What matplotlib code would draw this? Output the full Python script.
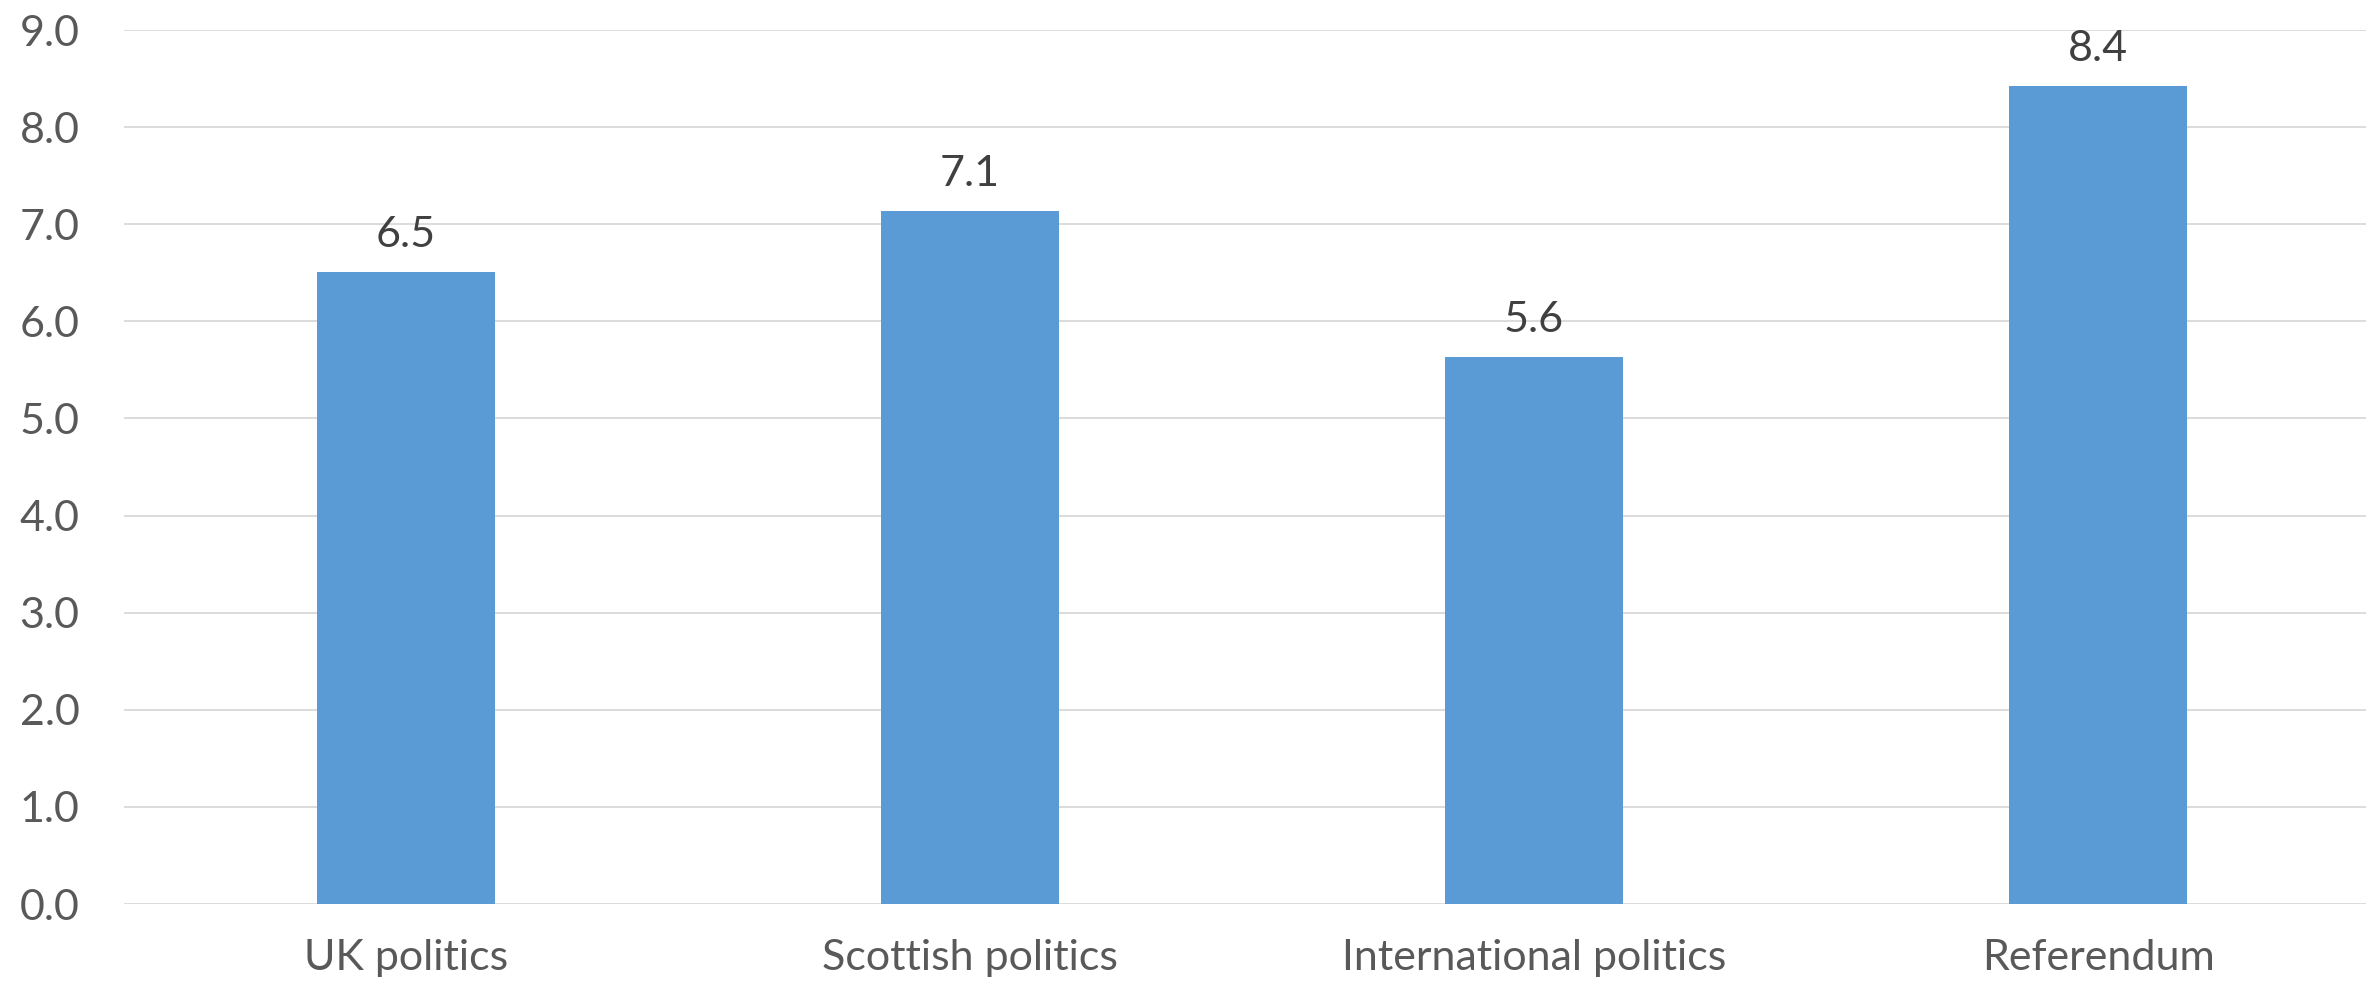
import matplotlib.pyplot as plt
from matplotlib.ticker import FormatStrFormatter

# data
categories = ["UK politics", "Scottish politics", "International politics", "Referendum"]
scores = [6.51, 7.14, 5.63, 8.42]
y_ticks = [0, 1, 2, 3, 4, 5, 6, 7, 8, 9]

BAR_COLOR = "#5B9BD5"
GRID_COLOR = "#D9D9D9"
TICK_COLOR = "#595959"
LABEL_COLOR = "#404040"

plt.rcParams['font.family'] = ['Lato', 'DejaVu Sans']

fig = plt.figure(figsize=(23.66, 9.89), dpi=100)
ax = fig.add_axes([124 / 2366, 85 / 989, (2380 - 124) / 2366, 874 / 989])

x = list(range(len(categories)))
bars = ax.bar(x, scores, width=0.315, color=BAR_COLOR, zorder=3)

for bar, val in zip(bars, scores):
    ax.annotate("%.1f" % val, (bar.get_x() + bar.get_width() / 2, val),
                xytext=(0, 18), textcoords="offset points",
                ha="center", va="baseline", fontsize=31, color=LABEL_COLOR)

ax.set_xlim(-0.5, len(categories) - 0.5)
ax.set_ylim(0, 9)
ax.set_yticks(y_ticks)
ax.yaxis.set_major_formatter(FormatStrFormatter('%.1f'))
ax.set_xticks(x)
ax.set_xticklabels(categories)

ax.grid(axis='y', color=GRID_COLOR, linewidth=1.3, zorder=0)
ax.set_axisbelow(True)
for s in ax.spines.values():
    s.set_visible(False)

ax.tick_params(axis='y', length=0, pad=32, labelsize=31, labelcolor=TICK_COLOR)
ax.tick_params(axis='x', length=0, pad=25, labelsize=31, labelcolor=TICK_COLOR)

fig.savefig("out.png", dpi=100)
